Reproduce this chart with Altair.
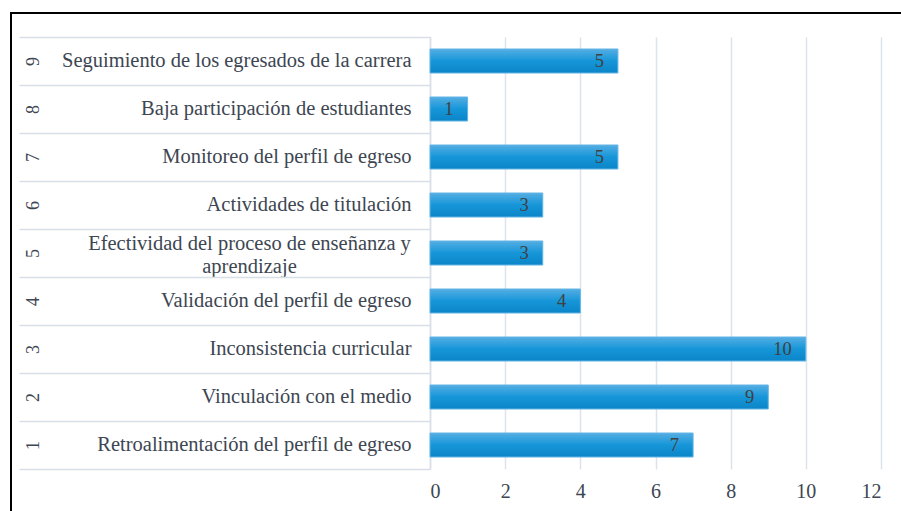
import json
import altair as alt
import pandas as pd

# ---- data ----
nums = [1, 2, 3, 4, 5, 6, 7, 8, 9]
names = [
    "Retroalimentación del perfil de egreso",
    "Vinculación con el medio",
    "Inconsistencia curricular",
    "Validación del perfil de egreso",
    "Efectividad del proceso de enseñanza y\naprendizaje",
    "Actividades de titulación",
    "Monitoreo del perfil de egreso",
    "Baja participación de estudiantes",
    "Seguimiento de los egresados de la carrera",
]
values = [7, 9, 10, 4, 3, 3, 5, 1, 5]
x_ticks = [0, 2, 4, 6, 8, 10, 12]

df = pd.DataFrame({"num": [str(n) for n in nums], "name": names, "value": values})
order = [str(n) for n in reversed(nums)]

# label lookup (indexed by num) for the category-name axis
lines = [[""]] + [nm.split("\n") for nm in names]
name_expr = json.dumps(lines, ensure_ascii=False) + "[toNumber(datum.value)]"
multi = [str(n) for n, nm in zip(nums, names) if "\n" in nm]
multi_test = " || ".join(f"datum.value === '{m}'" for m in multi) or "false"

FONT = "Liberation Serif"
TXT = "#3d4652"
GRID = "#dde3ea"
SEP = "#d9dfe7"

x_scale = alt.Scale(domain=[0, 12], nice=False, zero=True)
y_scale = alt.Scale(domain=order, paddingInner=0, paddingOuter=0)

grad = alt.Gradient(
    gradient="linear",
    stops=[
        alt.GradientStop(color="#55aee3", offset=0),
        alt.GradientStop(color="#1696d8", offset=0.5),
        alt.GradientStop(color="#0a85c8", offset=1),
    ],
    x1=0, x2=0, y1=0, y2=1,
)

border = alt.Chart(pd.DataFrame({"b": [0]})).mark_rect(
    fill="transparent", stroke="black", strokeWidth=2
).encode(
    x=alt.value(-419), x2=alt.value(520), y=alt.value(-24), y2=alt.value(520)
)

bars = alt.Chart(df).mark_bar(
    height={"band": 0.5}, color=grad, stroke="#62b4e6", strokeWidth=1
).encode(
    x=alt.X(
        "value:Q",
        scale=x_scale,
        axis=alt.Axis(
            values=x_ticks, title=None, grid=True, gridColor=GRID, gridWidth=1.5,
            domain=False, ticks=False, labelFont=FONT, labelFontSize=20,
            labelColor=TXT, labelPadding=12,
        ),
    ),
    y=alt.Y(
        "num:N",
        sort=order,
        scale=y_scale,
        axis=alt.Axis(
            orient="left", title=None, labelExpr=name_expr, ticks=False,
            domain=True, domainColor=SEP, domainWidth=1.5,
            labelAlign={"condition": {"test": multi_test, "value": "center"}, "value": "right"},
            labelPadding={"condition": {"test": multi_test, "value": 181}, "value": 19},
            labelOffset={"condition": {"test": multi_test, "value": -9.5}, "value": 0},
            labelBaseline="middle",
            labelLimit=0, labelFont=FONT, labelFontSize=20.5, labelColor=TXT,
            labelLineHeight=23,
        ),
    ),
)

labels = alt.Chart(df).mark_text(
    align="right", baseline="middle", dx=-14, font=FONT, fontSize=18.5, color="#404040"
).encode(
    x=alt.X("value:Q", scale=x_scale),
    y=alt.Y(
        "num:N",
        sort=order,
        scale=y_scale,
        axis=alt.Axis(
            orient="left", title=None, tickBand="extent", tickSize=411,
            tickColor=SEP, tickWidth=1.5, domain=False, labelPadding=-14,
            labelAngle=270, labelAlign="center", labelBaseline="middle",
            labelFont=FONT, labelFontSize=18, labelColor=TXT,
        ),
    ),
    text=alt.Text("value:Q"),
)

chart = (
    alt.layer(border, bars, labels)
    .resolve_axis(y="independent")
    .properties(
        width=451,
        height=432,
        padding={"left": 430, "top": 37, "right": 20, "bottom": 42},
        autosize=alt.AutoSizeParams(type="none"),
        background="white",
    )
    .configure_view(stroke=None)
)

chart.save("out.html", embed_options={"renderer": "svg", "actions": False})
